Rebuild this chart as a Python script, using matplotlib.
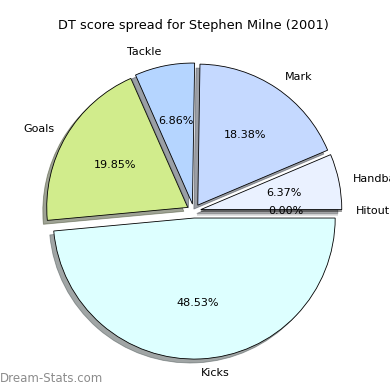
import matplotlib
matplotlib.use("Agg")
import matplotlib.pyplot as plt

# DT score breakdown
categories = ["Hitout", "Handball", "Mark", "Tackle", "Goals", "Kicks"]
shares = [0.00, 6.37, 18.38, 6.86, 19.85, 48.53]
colours = ["#F4F8FF", "#EAF1FF", "#C5D9FF", "#B5D5FF", "#D1EC8C", "#DDFFFF"]

fig = plt.figure(figsize=(3.9, 3.9), dpi=100)
ax = fig.add_axes([0.045, 0.007, 0.904, 0.904])

wedges, texts, autotexts = ax.pie(
    shares,
    labels=categories,
    colors=colours,
    explode=[0.05] * len(shares),
    autopct="%1.2f%%",
    pctdistance=0.6,
    labeldistance=1.1,
    startangle=0,
    shadow=True,
    wedgeprops={"edgecolor": "black", "linewidth": 0.6},
    textprops={"fontsize": 8},
)
ax.set_aspect("equal")
ax.set_title("DT score spread for Stephen Milne (2001)", fontsize=9.3, pad=4)

fig.text(0.0, 0.012, "Dream-Stats.com", color="#8c8c8c", fontsize=8.5,
         ha="left", va="bottom")

fig.savefig("out.png", dpi=100)
